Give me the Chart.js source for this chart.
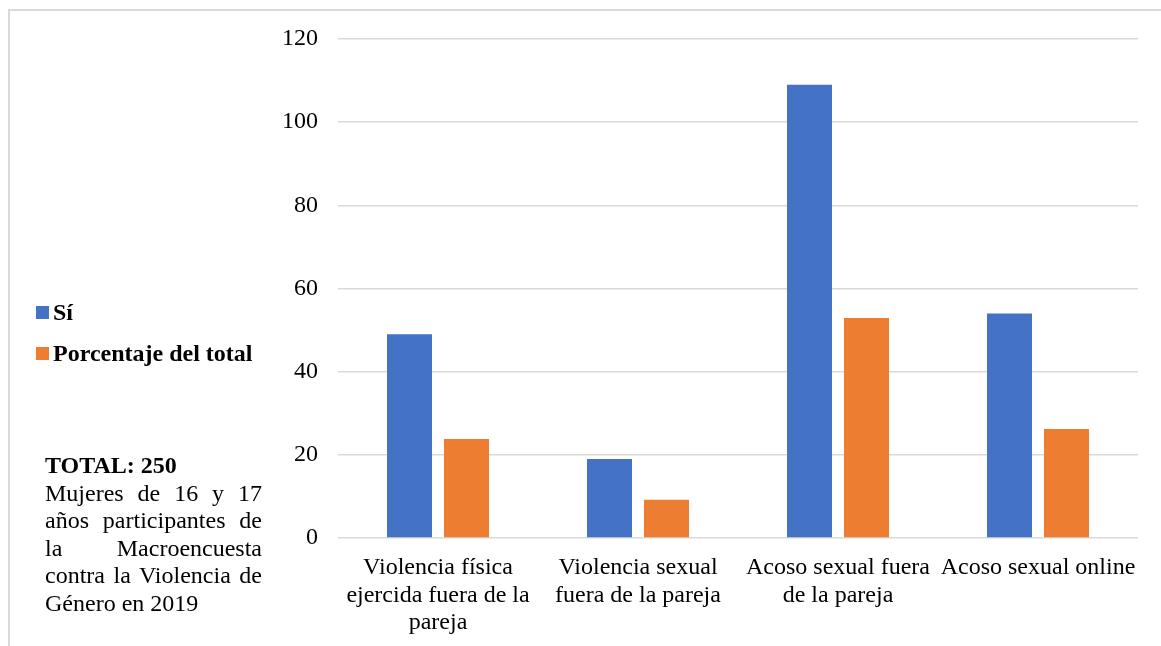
<!DOCTYPE html>
<html lang="es">
<head>
<meta charset="utf-8">
<title>Violencia contra mujeres de 16 y 17 años</title>
<script src="https://cdn.jsdelivr.net/npm/chart.js@4.4.1/dist/chart.umd.min.js"></script>
<style>
  html, body { margin: 0; padding: 0; background: #ffffff; }
  body { width: 1161px; height: 646px; position: relative; overflow: hidden;
         font-family: "Liberation Serif", "Times New Roman", serif; color: #000; }
  #frame { position: absolute; left: 8px; top: 9px; width: 1170px; height: 700px;
           border: 2px solid #d9d9d9; box-sizing: border-box; }
  #wrap { position: absolute; left: 0; top: 0; width: 1161px; height: 646px; }
  #legend { position: absolute; left: 36px; top: 292px; font-size: 24px; font-weight: bold; }
  #legend .item { display: flex; align-items: center; height: 41px; }
  #legend .swatch { width: 13px; height: 13px; margin-right: 4px; }
  #note { position: absolute; left: 45px; top: 452px; width: 217px; font-size: 24px;
          line-height: 27.5px; text-align: justify; }
  #note b { display: block; }
</style>
</head>
<body>
<div id="frame"></div>
<div id="wrap"><canvas id="chart" width="1161" height="646"></canvas></div>
<div id="legend"></div>
<div id="note"><b>TOTAL: 250</b>Mujeres de 16 y 17 años participantes de la Macroencuesta contra la Violencia de Género en 2019</div>
<script>
// Categories (multi-line labels) and series
const categories = [
  ["Violencia física", "ejercida fuera de la", "pareja"],
  ["Violencia sexual", "fuera de la pareja"],
  ["Acoso sexual fuera", "de la pareja"],
  ["Acoso sexual online"]
];
const seriesNames = ["Sí", "Porcentaje del total"];
const siValues = [49, 19, 109, 54];
const porcentajeValues = [23.8, 9.2, 52.9, 26.2];
const seriesColors = ["#4472C4", "#ED7D31"];
const yTicks = [0, 20, 40, 60, 80, 100, 120];

const serif = "'Liberation Serif', 'Times New Roman', serif";

const chart = new Chart(document.getElementById("chart"), {
  type: "bar",
  data: {
    labels: categories,
    datasets: [
      { label: seriesNames[0], data: siValues, backgroundColor: seriesColors[0] },
      { label: seriesNames[1], data: porcentajeValues, backgroundColor: seriesColors[1] }
    ]
  },
  options: {
    responsive: false,
    animation: false,
    events: [],
    datasets: { bar: { categoryPercentage: 0.57, barPercentage: 0.79 } },
    layout: { padding: { left: 0, right: 23, top: 39, bottom: 0 } },
    plugins: { legend: { display: false }, tooltip: { enabled: false } },
    scales: {
      x: {
        grid: { display: false, drawTicks: false },
        border: { display: false },
        ticks: {
          color: "#000", padding: 16, maxRotation: 0, autoSkip: false,
          font: { family: serif, size: 24, lineHeight: 1.15 }
        },
        afterFit: (s) => { s.height = 108; }
      },
      y: {
        min: yTicks[0], max: yTicks[yTicks.length - 1],
        afterBuildTicks: (s) => { s.ticks = yTicks.map(v => ({ value: v })); },
        grid: { color: "#d9d9d9", lineWidth: 1.5, drawTicks: false },
        border: { display: false },
        ticks: { color: "#000", padding: 20, font: { family: serif, size: 24 } },
        afterFit: (s) => { s.width = 338; }
      }
    }
  }
});

// Legend built from the chart's datasets
const legendEl = document.getElementById("legend");
chart.data.datasets.forEach(ds => {
  const item = document.createElement("div");
  item.className = "item";
  const sw = document.createElement("span");
  sw.className = "swatch";
  sw.style.background = ds.backgroundColor;
  const tx = document.createElement("span");
  tx.textContent = ds.label;
  item.appendChild(sw);
  item.appendChild(tx);
  legendEl.appendChild(item);
});
</script>
</body>
</html>
